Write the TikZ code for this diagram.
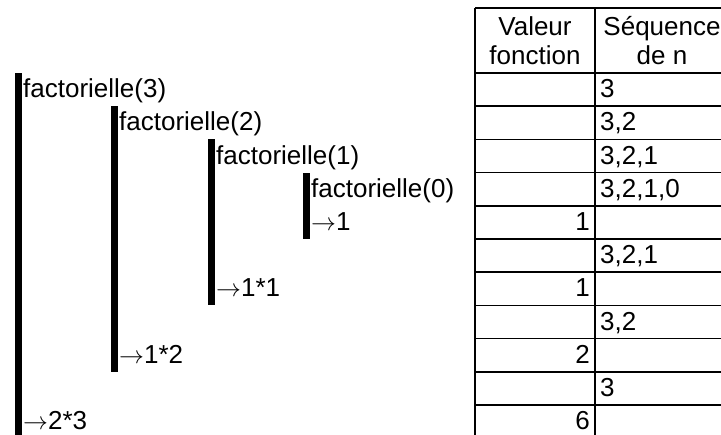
\documentclass[tikz,border=0pt]{standalone}
\usepackage{fontspec}
\setmainfont{Liberation Sans}
\begin{document}
\begin{tikzpicture}[x=1pt, y=-1pt, font=\fontsize{26}{28}\selectfont, inner sep=0pt,
    grid/.style={line width=1.6pt},
    bar/.style={fill=black}]
    \useasboundingbox (0,0) rectangle (721,435);

    % table: header, then 11 rows of 33.2 each
    \draw[grid] (475,8) -- (735,8);
    \draw[grid] (475,73) -- (735,73);
    \foreach \k in {1,...,11}
        \draw[grid] (475,73+33.2*\k) -- (735,73+33.2*\k);
    \draw[grid] (475,8) -- (475,445);
    \draw[grid] (595,8) -- (595,445);
    \draw[grid] (729,8) -- (729,445);

    \node[anchor=base] (h-val) at (535,36) {Valeur};
    \node[anchor=base] (h-fn)  at (535,65) {fonction};
    \node[anchor=base] (h-seq) at (662,36) {Séquence};
    \node[anchor=base] (h-n)   at (662,65) {de n};

    \foreach \s/\i in {3/1, {3,2}/2, {3,2,1}/3, {3,2,1,0}/4, {3,2,1}/6, {3,2}/8, 3/10}
        \node[anchor=base west] (seq-\i) at (600,73+33.2*\i-8.5) {\s};
    \foreach \v/\i in {1/5, 1/7, 2/9, 6/11}
        \node[anchor=base east] (val-\i) at (590,73+33.2*\i-8.5) {\v};

    % call bars: from the top of the call row to the bottom of the return row
    \fill[bar] (15,73)        rectangle (22,440);
    \fill[bar] (111,73+33.2)  rectangle (118,73+33.2*9);
    \fill[bar] (208,73+66.4)  rectangle (215,73+33.2*7);
    \fill[bar] (303,73+99.6)  rectangle (310,73+33.2*5);

    \node[anchor=base west] (f3) at (23,73+33.2*1-8.5)  {factorielle(3)};
    \node[anchor=base west] (f2) at (119,73+33.2*2-8.5) {factorielle(2)};
    \node[anchor=base west] (f1) at (216,73+33.2*3-8.5) {factorielle(1)};
    \node[anchor=base west] (f0) at (311,73+33.2*4-8.5) {factorielle(0)};
    \node[anchor=base west] (r0) at (311,73+33.2*5-8.5) {$\rightarrow$1};
    \node[anchor=base west] (r1) at (216,73+33.2*7-8.5) {$\rightarrow$1*1};
    \node[anchor=base west] (r2) at (119,73+33.2*9-8.5) {$\rightarrow$1*2};
    \node[anchor=base west] (r3) at (23,73+33.2*11-8.5) {$\rightarrow$2*3};
\end{tikzpicture}
\end{document}
